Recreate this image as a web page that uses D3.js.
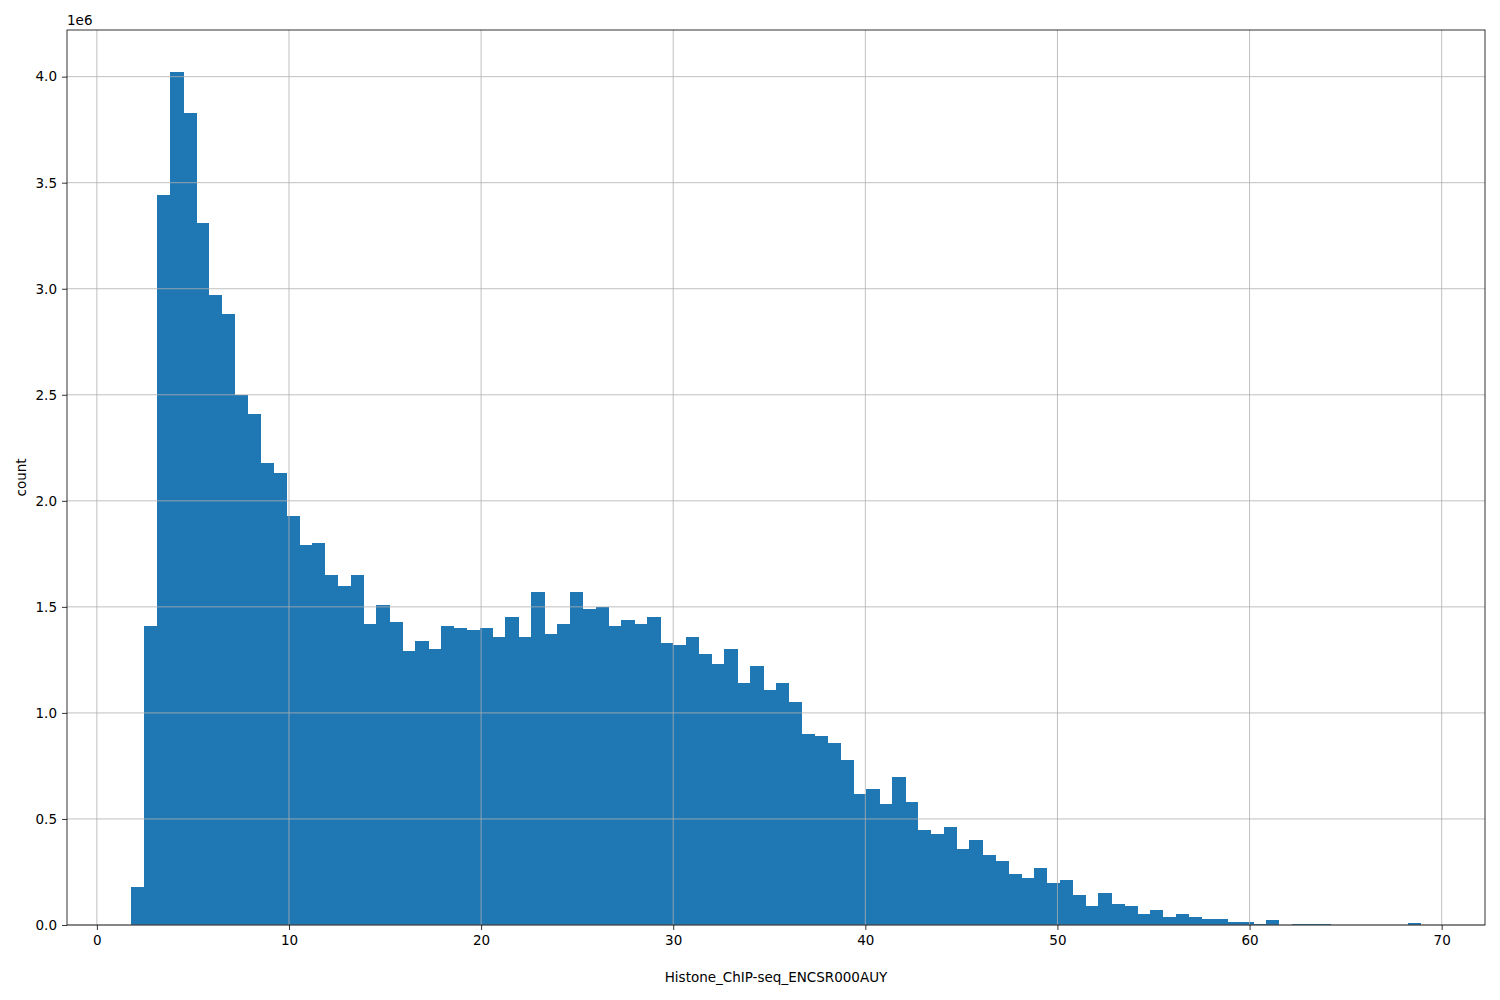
<!DOCTYPE html>
<html>
<head>
<meta charset="utf-8">
<script src="https://cdn.jsdelivr.net/npm/d3@7"></script>
<style>
  body { margin: 0; background: #fff; }
  text { font-family: "DejaVu Sans", sans-serif; }
</style>
</head>
<body>
<svg id="chart"></svg>
<script>
// histogram: 100 bins starting at binStart, width binWidth; counts in millions
const binStart = 1.80;
const binWidth = 0.671;
const counts = [
  0.18, 1.41, 3.44, 4.02, 3.83, 3.31, 2.97, 2.88, 2.50, 2.41,
  2.18, 2.13, 1.93, 1.79, 1.80, 1.65, 1.60, 1.65, 1.42, 1.51,
  1.43, 1.29, 1.34, 1.30, 1.41, 1.40, 1.39, 1.40, 1.36, 1.45,
  1.36, 1.57, 1.37, 1.42, 1.57, 1.49, 1.50, 1.41, 1.44, 1.42,
  1.45, 1.33, 1.32, 1.36, 1.28, 1.23, 1.30, 1.14, 1.22, 1.11,
  1.14, 1.05, 0.90, 0.89, 0.86, 0.78, 0.62, 0.64, 0.57, 0.70,
  0.58, 0.45, 0.43, 0.46, 0.36, 0.40, 0.33, 0.30, 0.24, 0.22,
  0.27, 0.20, 0.21, 0.14, 0.09, 0.15, 0.10, 0.09, 0.05, 0.07,
  0.04, 0.05, 0.04, 0.03, 0.03, 0.015, 0.015, 0.005, 0.025, 0,
  0.003, 0.005, 0.004, 0, 0, 0, 0, 0, 0, 0.01
];
const xTicks = [0, 10, 20, 30, 40, 50, 60, 70];
const yTicks = [0, 0.5, 1.0, 1.5, 2.0, 2.5, 3.0, 3.5, 4.0];
const xLabel = "Histone_ChIP-seq_ENCSR000AUY";
const yLabel = "count";

const W = 1500, H = 1000;
const margin = { top: 30, right: 15, bottom: 75, left: 67 };
const width = W - margin.left - margin.right;
const height = H - margin.top - margin.bottom;

const svg = d3.select("#chart").attr("width", W).attr("height", H);
const g = svg.append("g").attr("transform", `translate(${margin.left},${margin.top})`);

const dataMin = binStart, dataMax = binStart + binWidth * counts.length;
const pad = (dataMax - dataMin) * 0.05;
const x = d3.scaleLinear().domain([dataMin - pad, dataMax + pad]).range([0, width]);
const y = d3.scaleLinear().domain([0, 4.22]).range([height, 0]);

g.selectAll("rect.bar")
  .data(counts)
  .join("rect")
  .attr("class", "bar")
  .attr("x", (d, i) => x(binStart + i * binWidth))
  .attr("width", x(binWidth) - x(0) + 0.6)
  .attr("y", d => y(d))
  .attr("height", d => height - y(d))
  .attr("fill", "#1f77b4")
  .attr("shape-rendering", "crispEdges");

// grid on top of bars, like pandas hist
const grid = g.append("g");
grid.selectAll("line.gx").data(xTicks).join("line")
  .attr("x1", d => x(d)).attr("x2", d => x(d))
  .attr("y1", 0).attr("y2", height)
  .attr("stroke", "#b0b0b0").attr("stroke-width", 0.8);
grid.selectAll("line.gy").data(yTicks).join("line")
  .attr("x1", 0).attr("x2", width)
  .attr("y1", d => y(d)).attr("y2", d => y(d))
  .attr("stroke", "#b0b0b0").attr("stroke-width", 0.8);

const xAxis = g.append("g").attr("transform", `translate(0,${height})`)
  .call(d3.axisBottom(x).tickValues(xTicks).tickFormat(d3.format("d")).tickSize(5).tickPadding(5));
const yAxis = g.append("g")
  .call(d3.axisLeft(y).tickValues(yTicks).tickFormat(d3.format(".1f")).tickSize(5).tickPadding(5));
[xAxis, yAxis].forEach(a => {
  a.select(".domain").remove();
  a.selectAll("text").attr("font-size", 13.5).attr("fill", "#000");
  a.selectAll("line").attr("stroke", "#000").attr("stroke-width", 0.8);
});

g.append("rect").attr("width", width).attr("height", height)
  .attr("fill", "none").attr("stroke", "#000").attr("stroke-width", 0.8);

g.append("text").attr("x", 0).attr("y", -5).attr("font-size", 13.5).text("1e6");

svg.append("text").attr("x", margin.left + width / 2).attr("y", 982)
  .attr("text-anchor", "middle").attr("font-size", 13.5).text(xLabel);
svg.append("text").attr("transform", `translate(26,${margin.top + height / 2}) rotate(-90)`)
  .attr("text-anchor", "middle").attr("font-size", 13.5).text(yLabel);
</script>
</body>
</html>
